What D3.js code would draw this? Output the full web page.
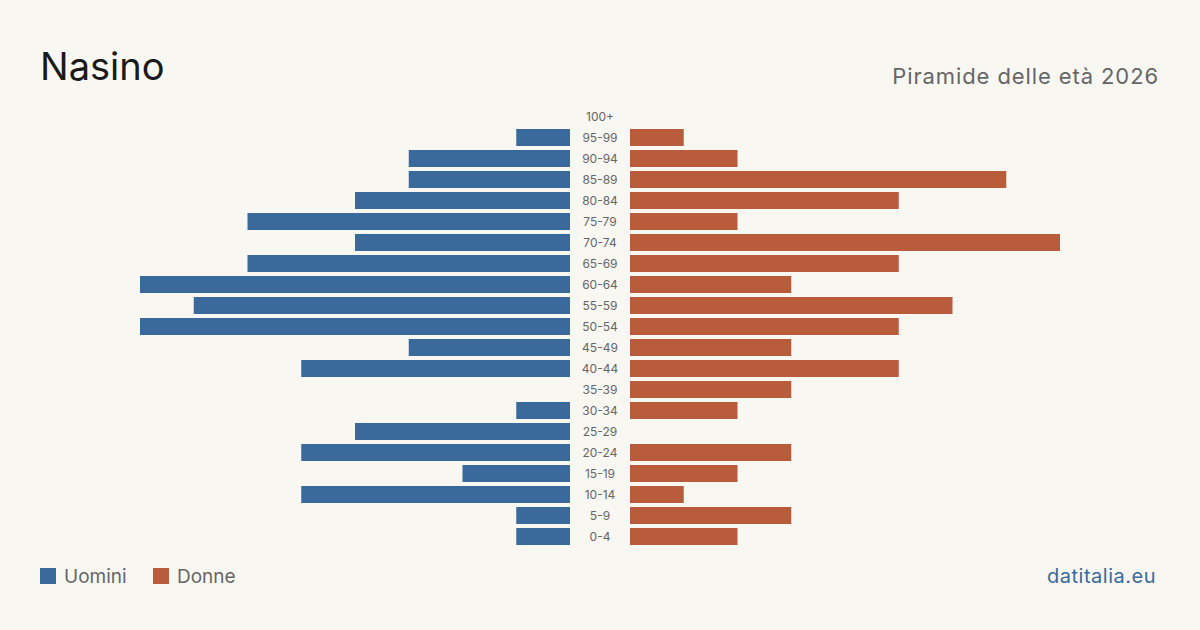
<!DOCTYPE html>
<html>
<head>
<meta charset="utf-8">
<script src="https://cdn.jsdelivr.net/npm/d3@7"></script>
<style>
  html, body { margin: 0; padding: 0; background: #f9f7f2; }
  svg { display: block; font-family: Inter, "Noto Sans", sans-serif; }
</style>
</head>
<body>
<div id="chart"></div>
<script>
// Age groups, top to bottom
const ageGroups = ["100+", "95-99", "90-94", "85-89", "80-84", "75-79", "70-74",
  "65-69", "60-64", "55-59", "50-54", "45-49", "40-44", "35-39", "30-34",
  "25-29", "20-24", "15-19", "10-14", "5-9", "0-4"];
const men = [0, 1, 3, 3, 4, 6, 4, 6, 8, 7, 8, 3, 5, 0, 1, 4, 5, 2, 5, 1, 1];
const women = [0, 1, 2, 7, 5, 2, 8, 5, 3, 6, 5, 3, 5, 3, 2, 0, 3, 2, 1, 3, 2];
const legendLabels = ["Uomini", "Donne"];

const WIDTH = 1200;
const HEIGHT = 630;
const CENTER_LEFT = 570;
const CENTER_RIGHT = 630;
const BLUE = "#3a6a9b";
const ORANGE = "#b95c3c";

const svg = d3.select("#chart")
  .append("svg")
  .attr("width", WIDTH)
  .attr("height", HEIGHT);

svg.append("rect")
  .attr("width", WIDTH)
  .attr("height", HEIGHT)
  .attr("fill", "#f9f7f2");

// Scales
const yScale = d3.scaleBand()
  .domain(ageGroups)
  .range([106, 547])
  .paddingInner(4 / 21)
  .paddingOuter(2 / 21);

const xScale = d3.scaleLinear([0, 8], [0, 430]);

// Men bars (left)
svg.append("g")
  .selectAll("rect")
  .data(ageGroups.map((g, i) => ({ group: g, value: men[i] })))
  .join("rect")
  .attr("x", (d) => CENTER_LEFT - xScale(d.value))
  .attr("y", (d) => yScale(d.group))
  .attr("width", (d) => xScale(d.value))
  .attr("height", yScale.bandwidth())
  .attr("fill", BLUE);

// Women bars (right)
svg.append("g")
  .selectAll("rect")
  .data(ageGroups.map((g, i) => ({ group: g, value: women[i] })))
  .join("rect")
  .attr("x", CENTER_RIGHT)
  .attr("y", (d) => yScale(d.group))
  .attr("width", (d) => xScale(d.value))
  .attr("height", yScale.bandwidth())
  .attr("fill", ORANGE);

// Age labels
svg.append("g")
  .selectAll("text")
  .data(ageGroups)
  .join("text")
  .attr("x", (CENTER_LEFT + CENTER_RIGHT) / 2)
  .attr("y", (d) => yScale(d) + yScale.bandwidth() / 2)
  .attr("dy", "0.35em")
  .attr("text-anchor", "middle")
  .style("font-size", "12px")
  .style("fill", "#666")
  .text((d) => d);

// Title and subtitle
svg.append("text")
  .attr("x", 40)
  .attr("y", 80)
  .style("font-size", "38px")
  .style("fill", "#1a1a1a")
  .text("Nasino");

svg.append("text")
  .attr("x", 1159)
  .attr("y", 84)
  .attr("text-anchor", "end")
  .style("font-size", "22px")
  .style("letter-spacing", "0.9px")
  .style("fill", "#666")
  .text("Piramide delle et\u00e0 2026");

// Legend
const legend = svg.append("g")
  .selectAll("g")
  .data(legendLabels)
  .join("g")
  .attr("transform", (d, i) => `translate(${i === 0 ? 40 : 153},568)`);

legend.append("rect")
  .attr("width", 16)
  .attr("height", 16)
  .attr("fill", (d, i) => (i === 0 ? BLUE : ORANGE));

legend.append("text")
  .attr("x", 24)
  .attr("y", 8)
  .attr("dy", "0.35em")
  .style("font-size", "19px")
  .style("fill", "#666")
  .text((d) => d);

svg.append("text")
  .attr("x", 1156)
  .attr("y", 583)
  .attr("text-anchor", "end")
  .style("font-size", "20px")
  .style("letter-spacing", "0.5px")
  .style("fill", BLUE)
  .text("datitalia.eu");
</script>
</body>
</html>
